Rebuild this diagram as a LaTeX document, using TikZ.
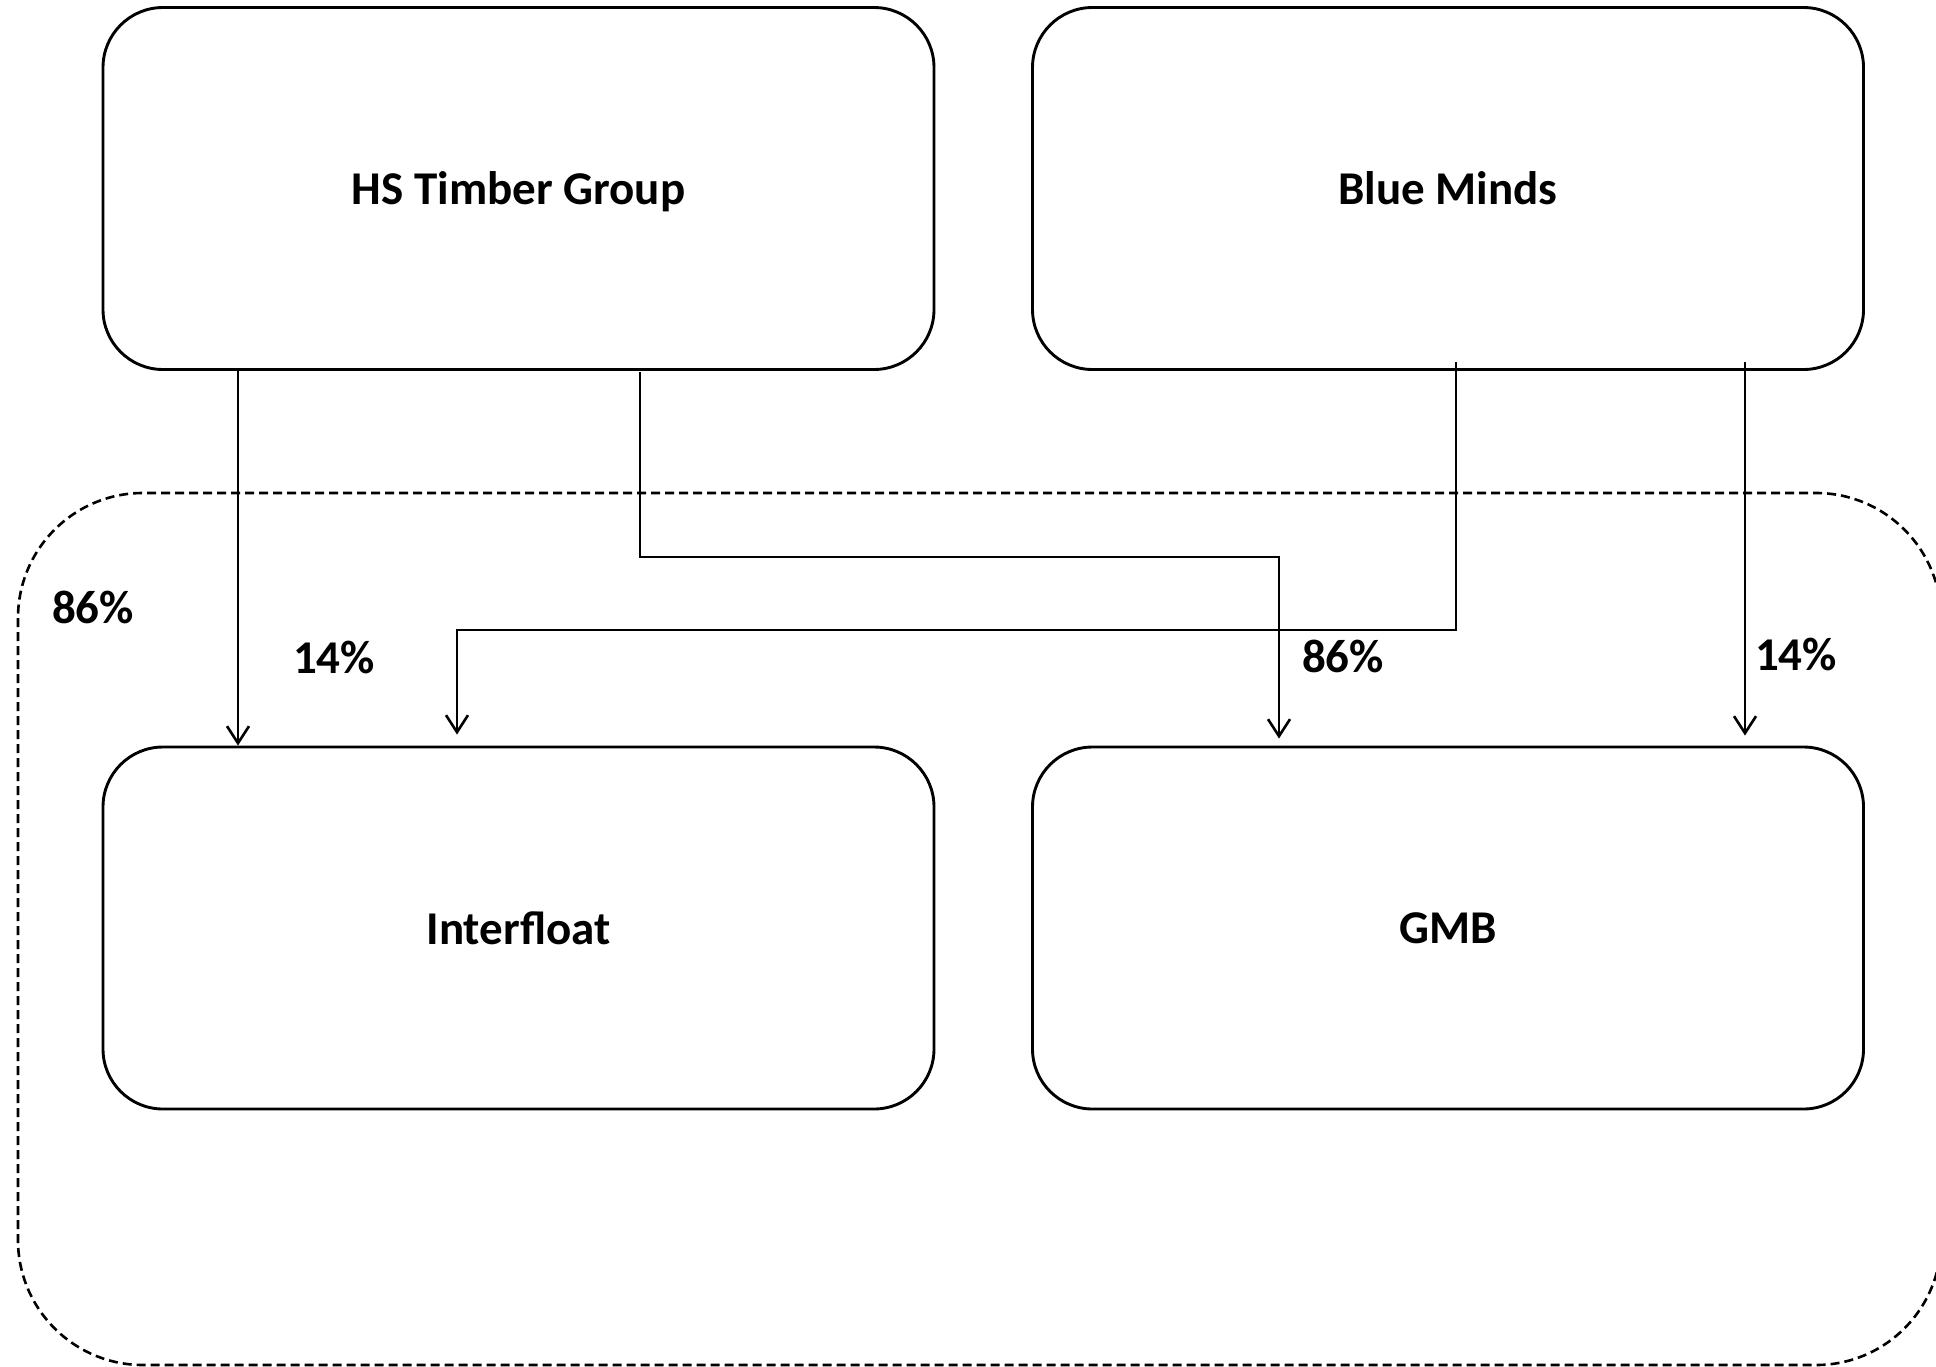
\documentclass[tikz,border=0pt]{standalone}
\usepackage{fontspec}
\setmainfont{Carlito}
\usetikzlibrary{arrows.meta}
\begin{document}
\begin{tikzpicture}[x=1pt,y=-1pt,
  box/.style={draw, line width=2.9pt, rounded corners=60pt, minimum width=831pt, minimum height=362pt, inner sep=0pt, text depth=0pt, font=\fontsize{47}{56}\selectfont\bfseries},
  conn/.style={line width=2.6pt, -{Straight Barb[length=17pt,width=22pt,line width=2.6pt]}},
  lab/.style={inner sep=0pt, font=\fontsize{47}{56}\selectfont\bfseries},
  group/.style={draw, dashed, dash pattern=on 9pt off 5pt, line width=2.6pt, rounded corners=125pt}]
\useasboundingbox (0,0) rectangle (1936,1366);
\draw[group] (18,493) rectangle (1941,1365);
\node[box] (hs)  at (518.5,188.5) {HS Timber Group};
\node[box] (bm)  at (1448,188.5) {Blue Minds};
\node[box] (ifl) at (518.5,928) {Interfloat};
\node[box] (gmb) at (1448,928) {GMB};
\coordinate (x1) at (238,0);
\coordinate (x2) at (640,0);
\coordinate (x3) at (1279,0);
\coordinate (x4) at (1456,0);
\coordinate (x5) at (457,0);
\coordinate (x6) at (1745,0);
\coordinate (m2) at (640,557);
\coordinate (m3) at (1456,630);
\draw[conn] (hs.south -| x1) -- (ifl.north -| x1);
\draw[conn] ([yshift=-1pt]hs.south -| x2) -- (m2) -| ([yshift=7pt]gmb.north -| x3);
\draw[conn] ([yshift=9pt]bm.south -| x4) -- (m3) -| ([yshift=11pt]ifl.north -| x5);
\draw[conn] ([yshift=9pt]bm.south -| x6) -- ([yshift=10pt]gmb.north -| x6);
\node[lab] (l1) at (93,607) {86\%};
\node[lab] (l2) at (334,657) {14\%};
\node[lab] (l3) at (1343,656) {86\%};
\node[lab] (l4) at (1796,654) {14\%};
\end{tikzpicture}
\end{document}
